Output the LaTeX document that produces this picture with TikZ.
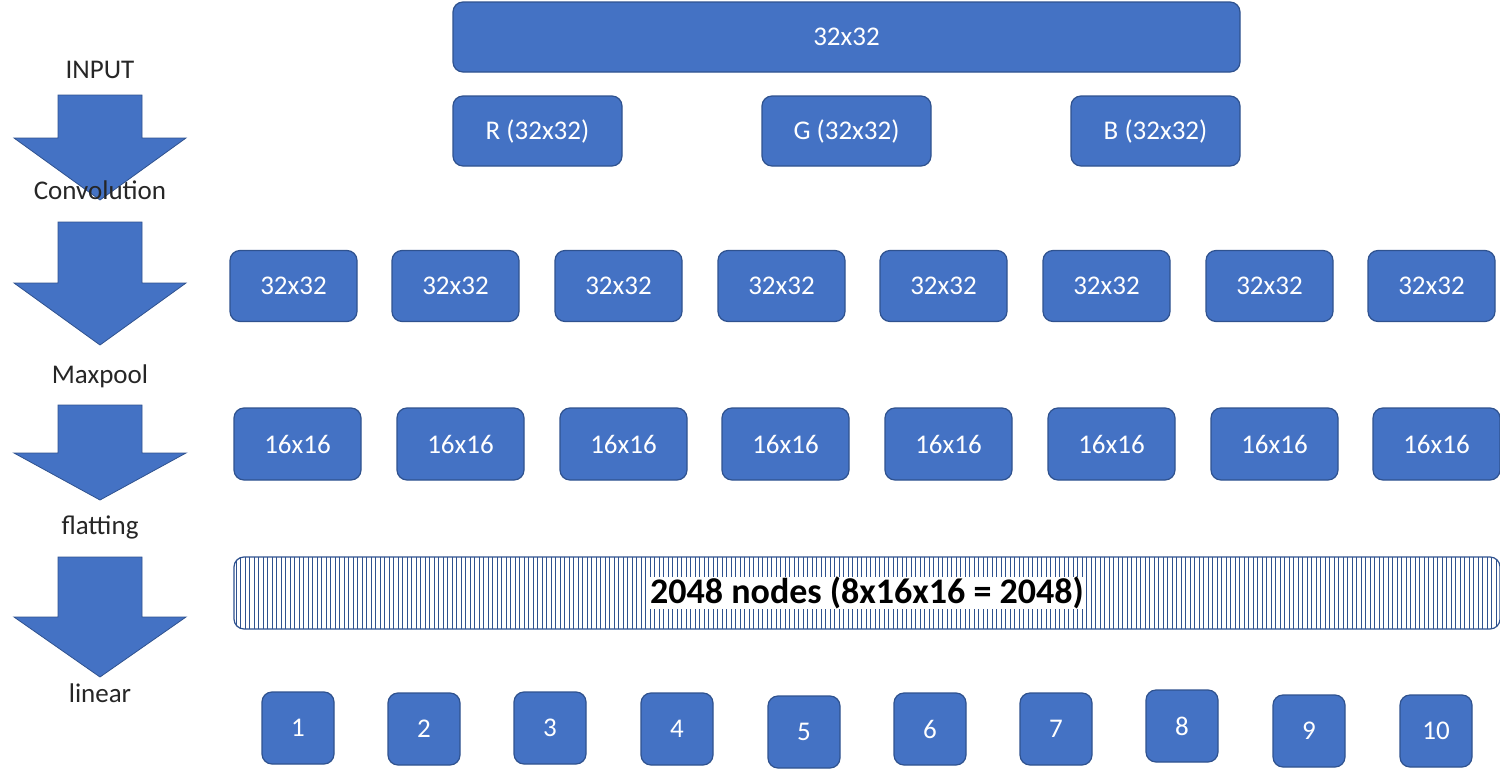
\documentclass[tikz,border=0pt]{standalone}
\usepackage{fontspec}
\setmainfont{Carlito}
\definecolor{bfill}{HTML}{4472C4}
\definecolor{bline}{HTML}{2F528F}
\begin{document}
\begin{tikzpicture}[x=0.5pt,y=-0.5pt,
  box/.style={draw=bline,fill=bfill,rounded corners=5pt,text=white,font=\fontsize{13.5}{16}\selectfont,line width=0.6pt},
  lbl/.style={font=\fontsize{13.5}{16}\selectfont,text=black!85},
  blockarrow/.style={fill=bfill,draw=bline,line width=0.4pt}]
\useasboundingbox (0,0) rectangle (1500,771);
% left arrows
\foreach \t/\h/\b in {95/138/200,222/283/345,405/453/500,557/617/677}{
  \draw[blockarrow] (58,\t) -- (142,\t) -- (142,\h) -- (186,\h) -- (100,\b) -- (14,\h) -- (58,\h) -- cycle;}
\node[lbl] (in) at (100,70) {INPUT};
\node[lbl] (cv) at (100,190) {Convolution};
\node[lbl] (mp) at (100,376) {Maxpool};
\node[lbl] (fl) at (100,527) {flatting};
\node[lbl] (li) at (100,693) {linear};
% top
\node[box,minimum width=393.5pt,minimum height=35pt] (top) at (846.5,37) {32x32};
\node[box,minimum width=84.5pt,minimum height=35pt] (r) at (537.5,131) {R (32x32)};
\node[box,minimum width=84.5pt,minimum height=35pt] (g) at (846.5,131) {G (32x32)};
\node[box,minimum width=84.5pt,minimum height=35pt] (b) at (1155.5,131) {B (32x32)};
% conv row
\foreach \x [count=\i] in {230,392,555,718,880,1043,1206,1368}{
  \node[box,minimum width=63.5pt,minimum height=35.5pt] (c\i) at (\x+63.5,286) {32x32};}
\foreach \x [count=\i] in {234,397,560,722,885,1048,1211,1373}{
  \node[box,minimum width=63.5pt,minimum height=36pt] (p\i) at (\x+63.5,444) {16x16};}
% bar
\begin{scope}
\clip[rounded corners=5pt] (234,557) rectangle (1500,629);
\foreach \k in {0,...,282}{\draw[bline,line width=0.5pt] (236+\k*4.5,557) -- (236+\k*4.5,629);}
\end{scope}
\draw[bline,rounded corners=5pt,line width=0.6pt] (234,557) rectangle (1500,629);
\node[font=\bfseries\fontsize{18}{22}\selectfont,fill=white,inner sep=0pt] (bar) at (867,593) {2048 nodes (8x16x16 = 2048)};
% outputs
\foreach \x/\y [count=\i] in {262/728,388/729,514/728,641/729,768/732,894/729,1020/729,1146/726,1273/731,1400/731}{
  \node[box,minimum width=36pt,minimum height=36pt] (o\i) at (\x+36,\y) {\i};}
\end{tikzpicture}
\end{document}
